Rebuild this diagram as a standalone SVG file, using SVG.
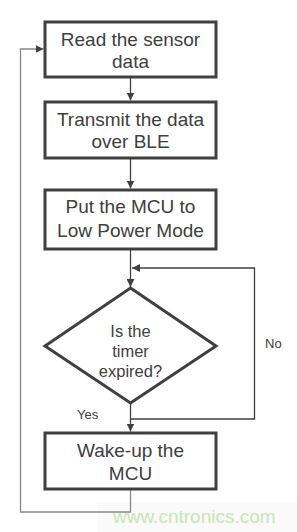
<svg xmlns="http://www.w3.org/2000/svg" width="297" height="532" viewBox="0 0 297 532">
<style>
.box{fill:#fff;stroke:#404040;stroke-width:3}
.t{font-family:"Liberation Sans",Arial,sans-serif;font-size:19px;fill:#404040;text-anchor:middle}
.td{font-family:"Liberation Sans",Arial,sans-serif;font-size:16.5px;fill:#404040;text-anchor:middle}
.lbl{font-family:"Liberation Sans",Arial,sans-serif;font-size:13px;fill:#404040}
.c{fill:none;stroke:#404040;stroke-width:1.3}
.cl{fill:none;stroke:#888;stroke-width:1.3}
</style>
<defs>
<marker id="ah" viewBox="0 0 8 8" refX="8" refY="4" markerWidth="8" markerHeight="8" markerUnits="userSpaceOnUse" orient="auto">
<path d="M0,0 L8,4 L0,8 Z" fill="#404040"/>
</marker>
</defs>
<rect width="297" height="532" fill="#fff"/>
<rect x="97" y="502" width="200" height="30" fill="#fafafa"/>
<g id="connectors">
<line class="c" x1="130.5" y1="77" x2="130.5" y2="100.5" marker-end="url(#ah)"/>
<line class="c" x1="130.5" y1="158" x2="130.5" y2="188.5" marker-end="url(#ah)"/>
<line class="c" x1="130.5" y1="249" x2="130.5" y2="287" marker-end="url(#ah)"/>
<line class="c" x1="130.5" y1="403" x2="130.5" y2="431.5" marker-end="url(#ah)"/>
<polyline class="c" points="130.5,419 254.5,419 254.5,268 132,268" marker-end="url(#ah)"/>
<polyline class="cl" points="130.5,489 130.5,512 20.5,512 20.5,49 43.5,49" marker-end="url(#ah)"/>
</g>
<g id="n1">
<rect class="box" x="45" y="22" width="171" height="55"/>
<text class="t" x="130.5" y="46">Read the sensor</text>
<text class="t" x="130.5" y="68">data</text>
</g>
<g id="n2">
<rect class="box" x="45" y="102" width="171" height="56"/>
<text class="t" x="130.5" y="126">Transmit the data</text>
<text class="t" x="130.5" y="148">over BLE</text>
</g>
<g id="n3">
<rect class="box" x="45" y="190" width="171" height="59"/>
<text class="t" x="130.5" y="213">Put the MCU to</text>
<text class="t" x="130.5" y="237">Low Power Mode</text>
</g>
<g id="n4">
<polygon class="box" points="130.5,288 216,346 130.5,403 45,346"/>
<text class="td" x="130.5" y="337">Is the</text>
<text class="td" x="130.5" y="357">timer</text>
<text class="td" x="130.5" y="377">expired?</text>
</g>
<g id="n5">
<rect class="box" x="45" y="433" width="171" height="56"/>
<text class="t" x="130.5" y="457">Wake-up the</text>
<text class="t" x="130.5" y="480">MCU</text>
</g>
<text class="lbl" x="265" y="348">No</text>
<text class="lbl" x="77" y="419">Yes</text>
<text x="113" y="523" style="font-family:'Liberation Sans',Arial,sans-serif;font-size:19px;fill:#c6e6b4">www.cntronics.com</text>
</svg>
